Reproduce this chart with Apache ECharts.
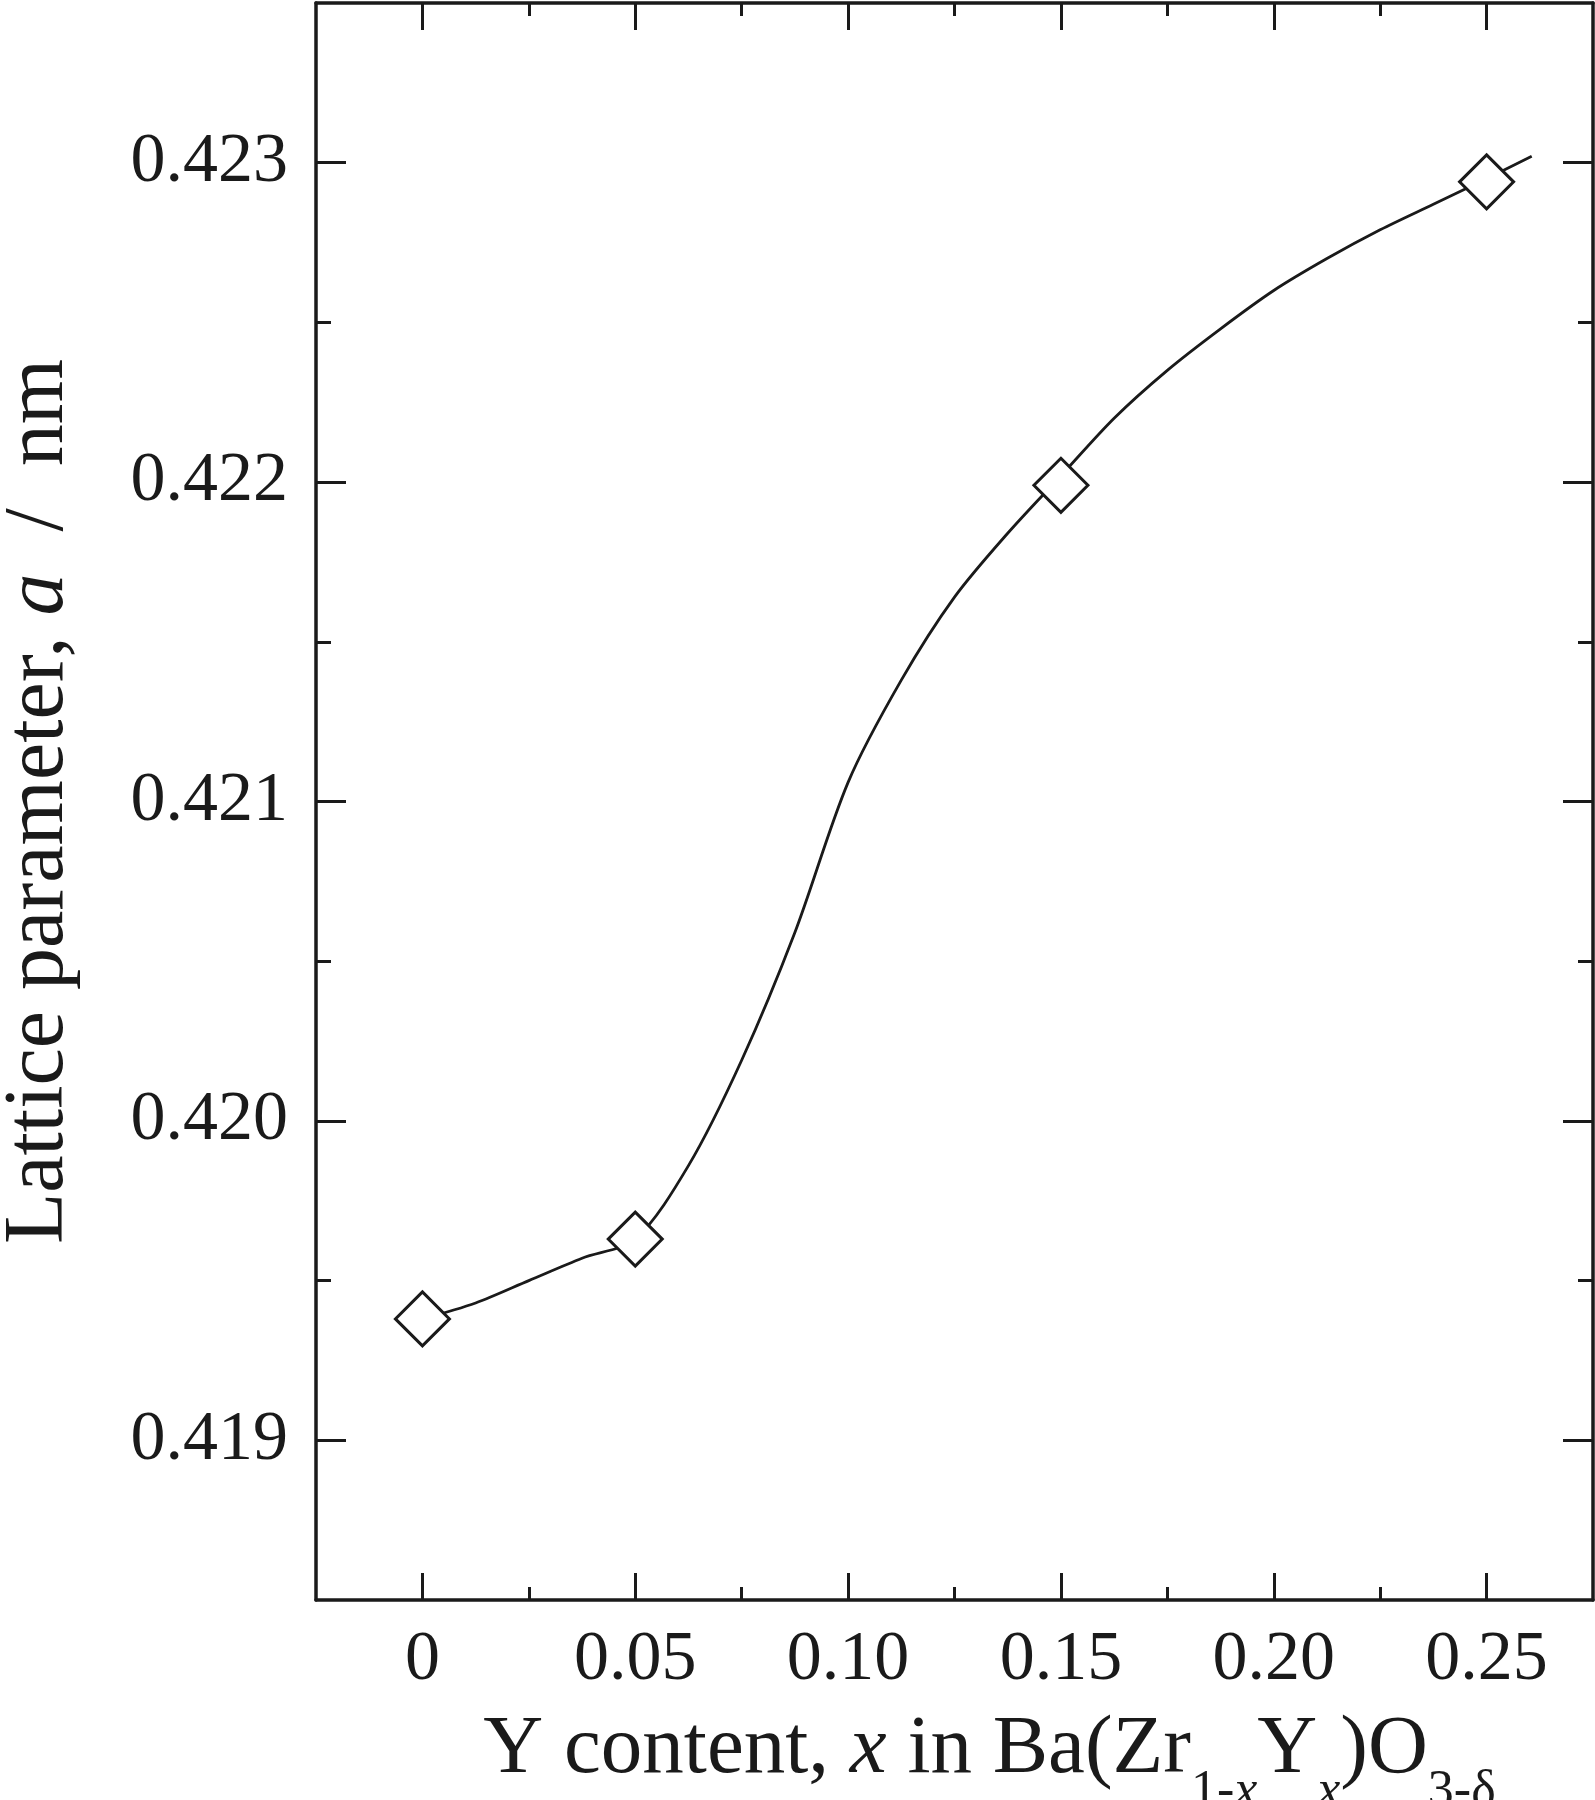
<!DOCTYPE html>
<html>
<head>
<meta charset="utf-8" />
<script src="https://cdn.jsdelivr.net/npm/echarts@6.0.0/dist/echarts.min.js"></script>
<style>
  html, body { margin: 0; padding: 0; background: #ffffff; }
  #chart { width: 1595px; height: 1800px; }
</style>
</head>
<body>
<div id="chart"></div>
<script>
// measured points (Y content x, lattice parameter a / nm)
const pointX = [0, 0.05, 0.15, 0.25];
const pointA = [0.41938, 0.41963, 0.42199, 0.42294];

// guide curve at even x steps
const curveX = [0, 0.0125, 0.025, 0.0375, 0.05, 0.0625, 0.075, 0.0875, 0.1, 0.1125, 0.125, 0.1375, 0.15, 0.1625, 0.175, 0.1875, 0.2, 0.2125, 0.225, 0.2375, 0.25, 0.2606];
const curveA = [0.41938, 0.41943, 0.4195, 0.41957, 0.41963, 0.41986, 0.42019, 0.42059, 0.42106, 0.42138, 0.42164, 0.42184, 0.42202, 0.4222, 0.42235, 0.42248, 0.4226, 0.4227, 0.42279, 0.42287, 0.42295, 0.42302];

// ticks
const xMajorTicks = [0, 0.05, 0.1, 0.15, 0.2, 0.25];
const xTickLabels = ["0", "0.05", "0.10", "0.15", "0.20", "0.25"];
const xMinorTicks = [0.025, 0.075, 0.125, 0.175, 0.225];
const yMajorTicks = [0.419, 0.42, 0.421, 0.422, 0.423];
const yTickLabels = ["0.419", "0.420", "0.421", "0.422", "0.423"];
const yMinorTicks = [0.4195, 0.4205, 0.4215, 0.4225];

const FONT = '"Liberation Serif", "DejaVu Serif", serif';
const INK = "#1a1a1a";

const pickLabel = (ticks, labels) => (v) => {
  const i = ticks.findIndex((t) => Math.abs(t - v) < 1e-9);
  return i < 0 ? "" : labels[i];
};

const chart = echarts.init(document.getElementById("chart"), null, { renderer: "canvas" });

const frameLine = { show: true, onZero: false, lineStyle: { color: INK, width: 3.5 } };
const noLine = { show: false, onZero: false };
const tick = (len, values) => ({
  show: true,
  inside: true,
  length: len,
  customValues: values,
  lineStyle: { color: INK, width: 3 },
});

const xBase = { type: "value", min: -0.025, max: 0.275, gridIndex: 0, splitLine: { show: false } };
const yBase = { type: "value", min: 0.4185, max: 0.4235, gridIndex: 0, splitLine: { show: false } };

const option = {
  animation: false,
  backgroundColor: "#ffffff",
  grid: { left: 316, right: 2, top: 3, bottom: 200, containLabel: false, outerBoundsMode: "none" },
  xAxis: [
    {
      ...xBase,
      position: "bottom",
      axisLine: frameLine,
      axisTick: tick(27, xMajorTicks),
      axisLabel: {
        show: true,
        customValues: xMajorTicks,
        formatter: pickLabel(xMajorTicks, xTickLabels),
        margin: 26,
        fontFamily: FONT,
        fontSize: 70,
        color: INK,
      },
      name: "{n|Y content, }{i|x}{n| in Ba(Zr}{s|1-}{si|x}{n|Y}{si|x}{n|)O}{s|3-δ}",
      nameLocation: "middle",
      nameGap: 82,
      nameTextStyle: {
        padding: [0, 0, 0, 70],
        rich: {
          n: { fontFamily: FONT, fontSize: 83, color: INK },
          i: { fontFamily: FONT, fontSize: 83, fontStyle: "italic", color: INK },
          s: { fontFamily: FONT, fontSize: 52, color: INK, padding: [84, 0, 0, 0] },
          si: { fontFamily: FONT, fontSize: 52, fontStyle: "italic", color: INK, padding: [84, 0, 0, 0] },
        },
      },
    },
    { ...xBase, position: "bottom", axisLine: noLine, axisTick: tick(13, xMinorTicks), axisLabel: { show: false } },
    { ...xBase, position: "top", axisLine: frameLine, axisTick: tick(27, xMajorTicks), axisLabel: { show: false } },
    { ...xBase, position: "top", axisLine: noLine, axisTick: tick(13, xMinorTicks), axisLabel: { show: false } },
  ],
  yAxis: [
    {
      ...yBase,
      position: "left",
      axisLine: frameLine,
      axisTick: tick(30, yMajorTicks),
      axisLabel: {
        show: true,
        customValues: yMajorTicks,
        formatter: pickLabel(yMajorTicks, yTickLabels),
        margin: 28,
        fontFamily: FONT,
        fontSize: 70,
        color: INK,
      },
      name: "{n|Lattice parameter, }{i|a}{n|  /  nm}",
      nameLocation: "middle",
      nameGap: 234,
      nameTextStyle: {
        rich: {
          n: { fontFamily: FONT, fontSize: 84, color: INK },
          i: { fontFamily: FONT, fontSize: 84, fontStyle: "italic", color: INK },
        },
      },
    },
    { ...yBase, position: "left", axisLine: noLine, axisTick: tick(15, yMinorTicks), axisLabel: { show: false } },
    { ...yBase, position: "right", axisLine: frameLine, axisTick: tick(30, yMajorTicks), axisLabel: { show: false } },
    { ...yBase, position: "right", axisLine: noLine, axisTick: tick(15, yMinorTicks), axisLabel: { show: false } },
  ],
  series: [
    {
      name: "curve",
      type: "line",
      xAxisIndex: 0,
      yAxisIndex: 0,
      data: curveX.map((x, i) => [x, curveA[i]]),
      smooth: 0.3,
      showSymbol: false,
      lineStyle: { color: INK, width: 2.8 },
      z: 2,
    },
    {
      name: "points",
      type: "scatter",
      xAxisIndex: 0,
      yAxisIndex: 0,
      data: pointX.map((x, i) => [x, pointA[i]]),
      symbol: "diamond",
      symbolSize: 54,
      itemStyle: { color: "#ffffff", opacity: 1, borderColor: INK, borderWidth: 3 },
      z: 5,
    },
  ],
};

chart.setOption(option);
</script>
</body>
</html>
